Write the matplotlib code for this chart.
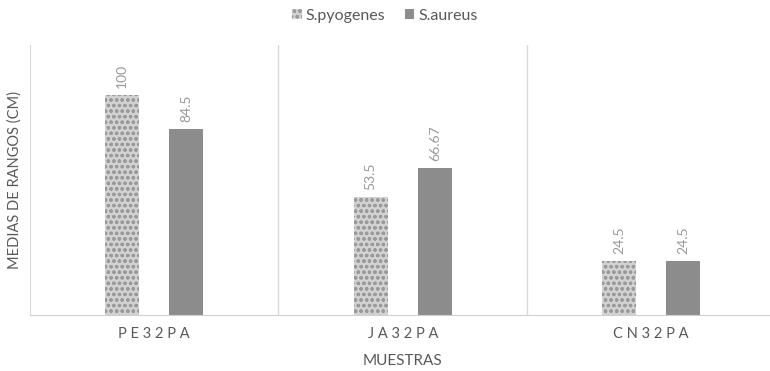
import matplotlib.pyplot as plt
import numpy as np

plt.rcParams['font.family'] = ['Lato', 'DejaVu Sans']
plt.rcParams['hatch.linewidth'] = 0.9

muestras = ["PE32PA", "JA32PA", "CN32PA"]
pyogenes = [100, 53.5, 24.5]
aureus = [84.5, 66.67, 24.5]
etiq_pyo = ["100", "53.5", "24.5"]
etiq_aur = ["84.5", "66.67", "24.5"]

fig = plt.figure(figsize=(7.7, 3.71), dpi=100)
ax = fig.add_axes([0.039, 0.151, 0.968, 0.728])

x = np.arange(len(muestras))
w = 0.137
off = 0.129

b1 = ax.bar(x - off, pyogenes, w, color="#d2d2d2", edgecolor="#9a9a9a",
            hatch="ooo", linewidth=0, label="S.pyogenes")
b2 = ax.bar(x + off, aureus, w, color="#8c8c8c", linewidth=0, label="S.aureus")

for rect, t in zip(b1, etiq_pyo):
    ax.annotate(t, (rect.get_x() + rect.get_width() / 2, rect.get_height()),
                xytext=(0, 5), textcoords="offset points", rotation=90,
                ha="center", va="bottom", fontsize=10, color="#999999")
for rect, t in zip(b2, etiq_aur):
    ax.annotate(t, (rect.get_x() + rect.get_width() / 2, rect.get_height()),
                xytext=(0, 5), textcoords="offset points", rotation=90,
                ha="center", va="bottom", fontsize=10, color="#999999")

for sep in [0.5, 1.5]:
    ax.axvline(sep, color="#d9d9d9", linewidth=1)

ax.set_xlim(-0.5, 2.5)
ax.set_ylim(0, 122.7)
ax.set_yticks([])
ax.set_xticks(x)
# letras espaciadas como en el original
ax.set_xticklabels([" ".join(m) for m in muestras], fontsize=10.5, color="#595959")
ax.tick_params(axis="x", length=0, pad=9)
for s in ["top", "right"]:
    ax.spines[s].set_visible(False)
ax.spines["left"].set_color("#d9d9d9")
ax.spines["bottom"].set_color("#d0d0d0")

ax.set_xlabel("MUESTRAS", fontsize=11, color="#595959", labelpad=9)
ax.set_ylabel("MEDIAS DE RANGOS (CM)", fontsize=10.5, color="#595959", labelpad=6)

fig.legend(loc="upper center", bbox_to_anchor=(0.5, 1.015), ncol=2, frameon=False,
           fontsize=11.5, labelcolor="#595959", handlelength=0.6, handleheight=0.6,
           handletextpad=0.25, columnspacing=1.2)

fig.savefig("out.png", dpi=100)
